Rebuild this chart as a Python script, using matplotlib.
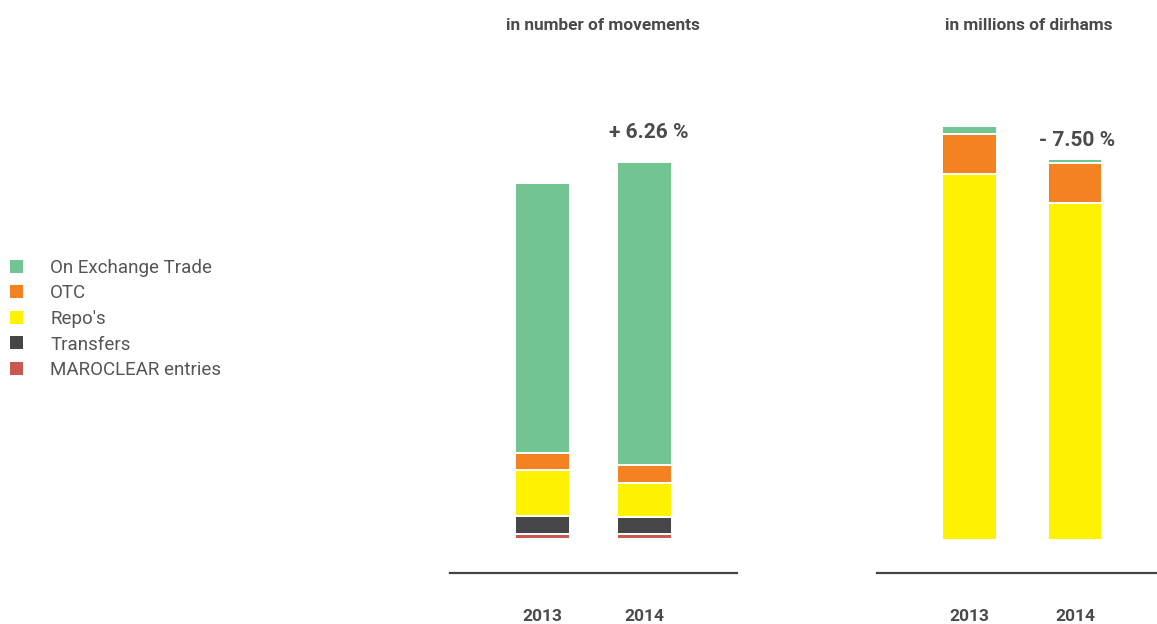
import matplotlib
matplotlib.use('Agg')
import matplotlib.pyplot as plt
from matplotlib.patches import Patch

# data (arbitrary units)
years = ['2013', '2014']
series = ['On Exchange Trade', 'OTC', "Repo's", 'Transfers', 'MAROCLEAR entries']
colors = ['#72c593', '#f58220', '#fff200', '#464547', '#c8594e']

# in number of movements
mov_exchange = [270, 303]
mov_otc = [17, 18]
mov_repo = [46, 34]
mov_transfers = [18, 17]
mov_maroclear = [5, 5]

# in millions of dirhams
dh_exchange = [8, 4]
dh_otc = [40, 40]
dh_repo = [366, 337]
dh_transfers = [0, 0]
dh_maroclear = [0, 0]

mov_change = '+ 6.26 %'
dh_change = '- 7.50 %'

TXT = '#4a4a4a'
W, H = 1157, 624
fig = plt.figure(figsize=(W / 100, H / 100), dpi=100)


def stacked(ax, stack, width, change, change_off, change_dx):
    x = range(len(years))
    bottom = [0] * len(years)
    # draw from bottom: maroclear, transfers, repo, otc, exchange
    for vals, col in zip(stack[::-1], colors[::-1]):
        ax.bar(x, vals, width, bottom=bottom, color=col, edgecolor='white', linewidth=1.4)
        bottom = [b + v for b, v in zip(bottom, vals)]
    ax.text(1 + change_dx, bottom[1] + change_off, change, ha='center', va='center',
            fontsize=15, fontweight='bold', color=TXT, family='Roboto')
    for s in ['top', 'left', 'right']:
        ax.spines[s].set_visible(False)
    ax.spines['bottom'].set_color('#444444')
    ax.spines['bottom'].set_linewidth(1.6)
    ax.set_yticks([])
    ax.set_xticks(list(x))
    ax.set_xticklabels(years, fontsize=12.5, fontweight='bold', color=TXT, family='Roboto')
    ax.tick_params(axis='x', length=0, pad=26)


ax1 = fig.add_axes([450 / W, (H - 573) / H, 287 / W, (573 - 60) / H])
stacked(ax1, [mov_exchange, mov_otc, mov_repo, mov_transfers, mov_maroclear], 0.54, mov_change, 30, 0.04)
ax1.set_xlim(-0.907, 1.907)
ax1.set_ylim(-34, 479)

ax2 = fig.add_axes([877 / W, (H - 573) / H, 286 / W, (573 - 60) / H])
stacked(ax2, [dh_exchange, dh_otc, dh_repo, dh_transfers, dh_maroclear], 0.52, dh_change, 18, 0.02)
ax2.set_xlim(-0.877, 1.834)
ax2.set_ylim(-33, 480)

fig.text(603 / W, 1 - 25 / H, 'in number of movements', ha='center', va='center',
         fontsize=12.4, fontweight='bold', color=TXT, family='Roboto')
fig.text(1029 / W, 1 - 25 / H, 'in millions of dirhams', ha='center', va='center',
         fontsize=12.4, fontweight='bold', color=TXT, family='Roboto')

handles = [Patch(facecolor=c, edgecolor='none') for c in colors]
fig.legend(handles, series, loc='center left', bbox_to_anchor=(0.0, 1 - 319 / H),
           frameon=False, handlelength=0.68, handleheight=0.68, handletextpad=1.45,
           labelspacing=0.40, borderaxespad=0.0, borderpad=0.55,
           prop={'family': 'Roboto', 'size': 13.5}, labelcolor='#555555')

fig.savefig('out.png', dpi=100)
